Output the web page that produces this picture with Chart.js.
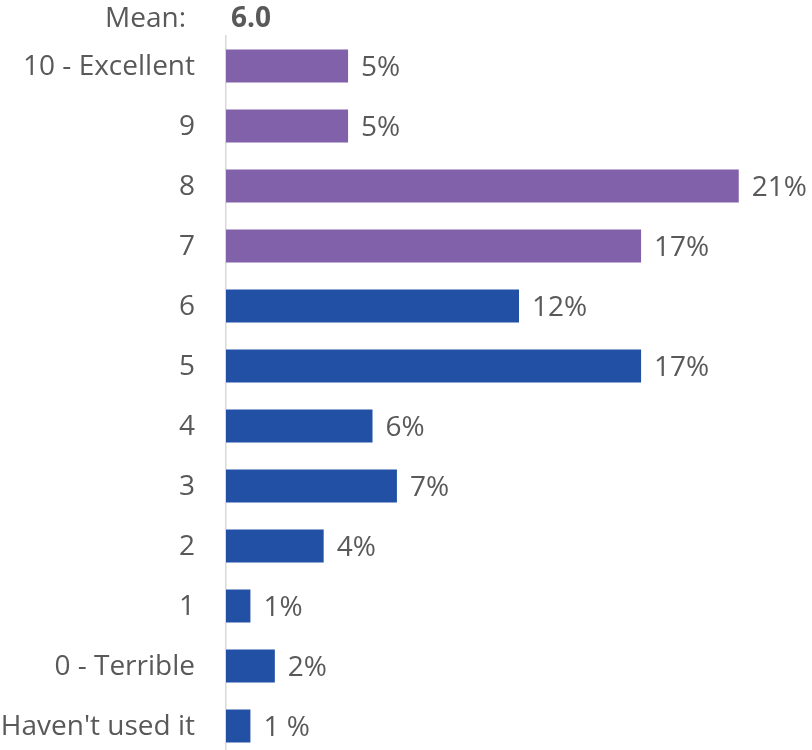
<!DOCTYPE html>
<html>
<head>
<meta charset="utf-8">
<script src="https://cdn.jsdelivr.net/npm/chart.js@4/dist/chart.umd.min.js"></script>
<style>
    html, body { margin: 0; padding: 0; background: #fff; overflow: hidden; }
    #ratingChart { display: block; }
</style>
</head>
<body>
<canvas id="ratingChart" width="812" height="756"></canvas>
<script>
var categories = ['10 - Excellent', '9', '8', '7', '6', '5', '4', '3', '2', '1', '0 - Terrible', "Haven't used it"];
var shares = [5, 5, 21, 17, 12, 17, 6, 7, 4, 1, 2, 1];
var shareLabels = ['5%', '5%', '21%', '17%', '12%', '17%', '6%', '7%', '4%', '1%', '2%', '1 %'];
var meanLabel = 'Mean:';
var meanValue = '6.0';

var purple = '#8261AB';
var blue = '#2150A5';
var textColor = '#595959';
var fontFamily = "'Open Sans', sans-serif";
var fontSize = 28;

// top four ratings (7-10) are purple, the rest blue
var barColors = categories.map(function (c, i) { return i < 4 ? purple : blue; });

var valueLabelsPlugin = {
    id: 'valueLabels',
    afterDatasetsDraw: function (chart) {
        var ctx = chart.ctx;
        var meta = chart.getDatasetMeta(0);
        ctx.save();
        ctx.fillStyle = textColor;
        ctx.font = fontSize + 'px ' + fontFamily;
        ctx.textAlign = 'left';
        ctx.textBaseline = 'middle';
        meta.data.forEach(function (bar, i) {
            ctx.fillText(shareLabels[i], bar.x + 13, bar.y + 2);
        });

        // mean header above the bars
        ctx.textBaseline = 'alphabetic';
        ctx.textAlign = 'right';
        ctx.fillText(meanLabel, 186, 27);
        ctx.textAlign = 'left';
        ctx.font = 'bold ' + fontSize + 'px ' + fontFamily;
        ctx.fillText(meanValue, 231, 27);
        ctx.restore();
    }
};

var ctx = document.getElementById('ratingChart').getContext('2d');
var chart = new Chart(ctx, {
    type: 'bar',
    data: {
        labels: categories,
        datasets: [{
            data: shares,
            backgroundColor: barColors,
            borderWidth: 0,
            categoryPercentage: 0.55,
            barPercentage: 1
        }]
    },
    options: {
        indexAxis: 'y',
        responsive: false,
        animation: false,
        layout: {
            padding: { top: 36, right: 0, bottom: 0, left: 0 }
        },
        scales: {
            x: {
                display: false,
                min: 0,
                max: 24
            },
            y: {
                grid: { display: false, drawTicks: false },
                border: { display: true, color: '#d9d9d9', width: 1.5 },
                ticks: {
                    color: textColor,
                    padding: 31,
                    labelOffset: 1,
                    font: { family: fontFamily, size: fontSize }
                },
                afterFit: function (scale) {
                    scale.width = 226;
                    // labels sit beside the bars, no extra room needed above/below
                    scale.paddingTop = 0;
                    scale.paddingBottom = 0;
                }
            }
        },
        plugins: {
            legend: { display: false },
            tooltip: { enabled: false }
        }
    },
    plugins: [valueLabelsPlugin]
});
</script>
</body>
</html>
